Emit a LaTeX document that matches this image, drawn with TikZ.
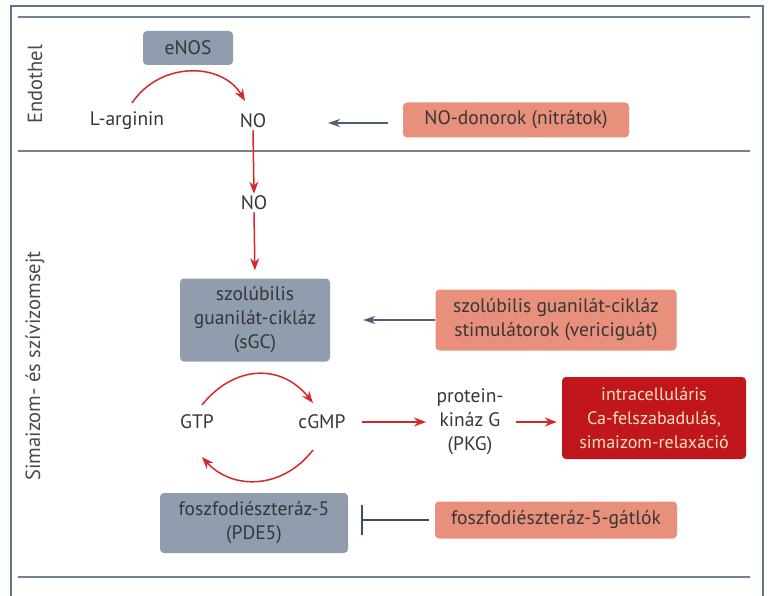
\documentclass[tikz,border=0pt]{standalone}
\usepackage{fontspec}
\setmainfont{PT Sans}
\usetikzlibrary{arrows.meta}
\definecolor{frameblue}{HTML}{5E7690}
\definecolor{sepline}{HTML}{6F8195}
\definecolor{graybox}{HTML}{8F9DAE}
\definecolor{salmon}{HTML}{E9907D}
\definecolor{darkred}{HTML}{C2161D}
\definecolor{cream}{HTML}{F6E2BC}
\definecolor{arrred}{HTML}{D5282A}
\definecolor{arrdark}{HTML}{4C6074}
\definecolor{txt}{HTML}{363636}
\tikzset{
  every node/.style={font=\fontsize{19.5}{24}\selectfont, text=txt},
  graybx/.style={fill=graybox, rounded corners=4pt, align=center, inner sep=0pt},
  salmonbx/.style={fill=salmon, rounded corners=4pt, align=center, inner sep=0pt},
  redbx/.style={fill=darkred, rounded corners=4pt, align=center, inner sep=0pt, text=cream, font=\fontsize{18}{24}\selectfont},
  plain/.style={inner sep=2pt, align=center},
  redarr/.style={draw=arrred, line width=1.5pt, -{Stealth[length=12pt,width=9pt]}},
  darkarr/.style={draw=arrdark, line width=1.5pt, -{Stealth[length=12pt,width=8pt]}},
  inhib/.style={draw=arrdark!80!black, line width=1.3pt, -{Bar[width=30pt,line width=1.3pt]}},
  sep/.style={draw=sepline, line width=2pt},
  sidelabel/.style={rotate=90, font=\fontsize{20.5}{22}\selectfont, text=txt!90}
}
\begin{document}
\begin{tikzpicture}[x=1pt,y=-1pt]
\useasboundingbox (0,0) rectangle (773,596);
\fill[white] (0,0) rectangle (773,596);
% frame
\draw[frameblue, line width=1.5pt] (11,600) -- (11,6) -- (763,6) -- (763,600);
% separators
\draw[sep] (18,17) -- (750,17);
\draw[sep] (18,151) -- (750,151);
\draw[sep] (18,577) -- (750,577);
% side labels
\node[sidelabel] (lab1) at (35,84) {Endothel};
\node[sidelabel] (lab2) at (35,366) {Simaizom- és szívizomsejt};
% endothel
\node[graybx, minimum width=90pt, minimum height=34pt] (enos) at (188,48) {eNOS};
\node[plain] (larg) at (127,121) {L-arginin};
\node[plain] (no1) at (253,121) {NO};
\node[salmonbx, minimum width=226pt, minimum height=35pt] (donor) at (516,120) {NO-donorok (nitrátok)};
\coordinate (largtop) at (132,103);
\coordinate (no1top) at (245,101);
\draw[redarr] (largtop) .. controls (160,61) and (222,62) .. (no1top);
\coordinate (donarrend) at (328,123);
\draw[darkarr, shorten <=15pt] (donor.west |- donarrend) -- (donarrend);
% muscle cell
\node[plain] (no2) at (254,203) {NO};
\draw[redarr] (no1.south) -- (no2.north);
\node[graybx, minimum width=150pt, minimum height=83pt] (sgc) at (255,320) {szolúbilis\\guanilát-cikláz\\(sGC)};
\node[salmonbx, minimum width=241pt, minimum height=61pt] (stim) at (556,320) {szolúbilis guanilát-cikláz\\stimulátorok (vericiguát)};
\draw[redarr, shorten >=8pt] (no2.south) -- (sgc.north);
\draw[darkarr, shorten >=33pt] (stim.west) -- (sgc.east);
\node[plain] (gtp) at (197,422) {GTP};
\node[plain] (cgmp) at (322,422) {cGMP};
\coordinate (gtpup) at (202,405);
\coordinate (cgmpup) at (313,403);
\coordinate (cgmpdn) at (313,450);
\coordinate (gtpdn) at (202,457);
\draw[redarr] (gtpup) .. controls (235,364) and (282,364) .. (cgmpup);
\draw[redarr] (cgmpdn) .. controls (282,490) and (232,490) .. (gtpdn);
\node[plain] (pkg) at (470,422) {protein-\\kináz G\\(PKG)};
\node[redbx, minimum width=184pt, minimum height=82pt] (relax) at (654,418) {intracelluláris\\Ca-felszabadulás,\\simaizom-relaxáció};
\coordinate (cg1) at (362,422);
\coordinate (cg2) at (426,422);
\coordinate (pk1) at (516,422);
\draw[redarr] (cg1) -- (cg2);
\draw[redarr, shorten >=5pt] (pk1) -- (relax.west |- pk1);
\node[graybx, minimum width=188pt, minimum height=60pt] (pde) at (254,523) {foszfodiészteráz-5\\(PDE5)};
\node[salmonbx, minimum width=242pt, minimum height=37pt] (inh) at (556,520) {foszfodiészteráz-5-gátlók};
\draw[inhib, shorten <=6pt, shorten >=13pt] (inh.west) -- (pde.east |- inh.west);
\end{tikzpicture}
\end{document}
